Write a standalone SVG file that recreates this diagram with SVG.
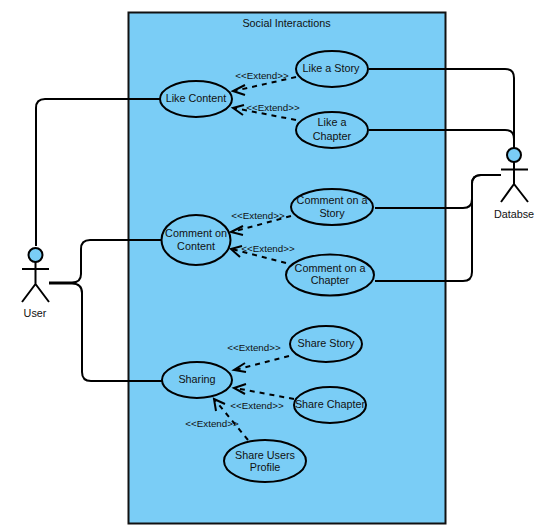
<svg xmlns="http://www.w3.org/2000/svg" width="544" height="526" viewBox="0 0 544 526">
<style>
text{font-family:"Liberation Sans",Arial,sans-serif;font-size:10.800px;fill:#111;text-anchor:middle}
.uc{fill:#7acdf6;stroke:#000;stroke-width:2}
.ln{fill:none;stroke:#000;stroke-width:2}
.ex{fill:none;stroke:#000;stroke-width:2;stroke-dasharray:5 5}
.ah{fill:none;stroke:#000;stroke-width:2}
.lb{font-size:9.800px}
</style>
<rect width="544" height="526" fill="#fff"/>
<g id="boundary"><rect x="128.500" y="12.500" width="317" height="511" fill="#7acdf6" stroke="#111" stroke-width="2"/><text x="286.500" y="27">Social Interactions</text></g>
<g id="connectors">
<path class="ln" d="M36 246V108Q36 99 45 99H160"/>
<path class="ln" d="M49 282.500H72Q81 282.500 81 274V249Q81 240 90 240H162"/>
<path class="ln" d="M49 283.500H72Q82 283.500 82 293V372Q82 381 91 381H162"/>
<path class="ln" d="M369 69H505Q514 69 514 78V148"/>
<path class="ln" d="M369 130H505Q514 130 514 139V148"/>
<path class="ln" d="M375 208H463Q472 208 472 199V184Q472 175 481 175H501"/>
<path class="ln" d="M375 281H463Q472 281 472 272V184Q472 175 481 175"/>
<path class="ex" d="M296 77L234 91"/><path class="ah" d="M245 85L233 91L245 95"/>
<path class="ex" d="M296 120L234 108"/><path class="ah" d="M244 105L233 108L243 115"/>
<path class="ex" d="M291 216L232 232"/><path class="ah" d="M243 226L231 232L243 235"/>
<path class="ex" d="M286 263L232 249"/><path class="ah" d="M242 246L231 249L240 257"/>
<path class="ex" d="M289 356L235 370"/><path class="ah" d="M245 363L234 370L246 372"/>
<path class="ex" d="M294 399L235 388"/><path class="ah" d="M246 384L234 388L245 394"/>
<path class="ex" d="M248 440L215 400"/><path class="ah" d="M216 411L214 399L225 404"/>
<text class="lb" x="262" y="79">&lt;&lt;Extend&gt;&gt;</text>
<text class="lb" x="273" y="111">&lt;&lt;Extend&gt;&gt;</text>
<text class="lb" x="258" y="219">&lt;&lt;Extend&gt;&gt;</text>
<text class="lb" x="268" y="252">&lt;&lt;Extend&gt;&gt;</text>
<text class="lb" x="254" y="351">&lt;&lt;Extend&gt;&gt;</text>
<text class="lb" x="257" y="409">&lt;&lt;Extend&gt;&gt;</text>
<text class="lb" x="212" y="427">&lt;&lt;Extend&gt;&gt;</text>
</g>
<g id="like-content"><ellipse class="uc" cx="196" cy="99" rx="36" ry="18"/><text x="196" y="102">Like Content</text></g>
<g id="like-story"><ellipse class="uc" cx="332" cy="69" rx="36" ry="18"/><text x="331" y="72">Like a Story</text></g>
<g id="like-chapter"><ellipse class="uc" cx="332" cy="130" rx="36" ry="18"/><text x="332" y="126">Like a</text><text x="332" y="140">Chapter</text></g>
<g id="comment-content"><ellipse class="uc" cx="196" cy="240" rx="34.500" ry="25"/><text x="196" y="237">Comment on</text><text x="196" y="250">Content</text></g>
<g id="comment-story"><ellipse class="uc" cx="332" cy="207" rx="41" ry="18"/><text x="332" y="204">Comment on a</text><text x="332" y="217">Story</text></g>
<g id="comment-chapter"><ellipse class="uc" cx="330" cy="275" rx="44" ry="20.500"/><text x="330" y="272">Comment on a</text><text x="330" y="284">Chapter</text></g>
<g id="sharing"><ellipse class="uc" cx="197" cy="380" rx="35" ry="18"/><text x="197" y="383">Sharing</text></g>
<g id="share-story"><ellipse class="uc" cx="326" cy="344" rx="36" ry="18"/><text x="326" y="347">Share Story</text></g>
<g id="share-chapter"><ellipse class="uc" cx="330" cy="405" rx="36" ry="18"/><text x="330" y="408">Share Chapter</text></g>
<g id="share-profile"><ellipse class="uc" cx="265" cy="461" rx="41" ry="21"/><text x="265" y="459">Share Users</text><text x="265" y="471">Profile</text></g>
<g id="user"><circle class="uc" cx="35.500" cy="255" r="7"/><path class="ln" d="M35.500 262V284M22 269H49M35.500 284L22 302M35.500 284L49 302"/><text x="35" y="317">User</text></g>
<g id="database"><circle class="uc" cx="514" cy="155" r="7"/><path class="ln" d="M514 162V184M501 169.500H528M514 184L501 202M514 184L528 202"/><text x="514" y="218">Databse</text></g>
</svg>
